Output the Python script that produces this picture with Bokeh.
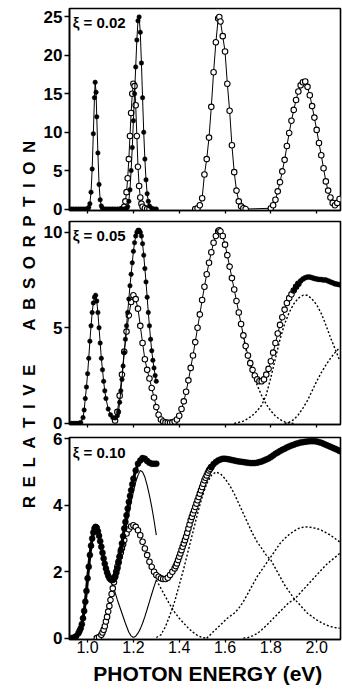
from bokeh.plotting import figure
from bokeh.layouts import column, row
from bokeh.models import Range1d, FixedTicker, Label, NumeralTickFormatter
from bokeh.core.properties import value
from bokeh.embed import file_html
from bokeh.resources import INLINE

FONT = "Liberation Sans"

X_TICKS = [1.0, 1.2, 1.4, 1.6, 1.8, 2.0]
P1_Y_TICKS = [0, 5, 10, 15, 20, 25]
P2_Y_TICKS = [0, 5, 10]
P3_Y_TICKS = [0, 2, 4, 6]
XI_LABELS = ["ξ = 0.02", "ξ = 0.05", "ξ = 0.10"]
Y_LABEL = "RELATIVE ABSORPTION"
X_LABEL = "PHOTON ENERGY (eV)"

# ---------------- panel 1 (xi = 0.02) ----------------
P1_F_x = [0.93, 0.94, 0.95, 0.96, 0.97, 0.98, 0.99, 1.00,
          1.005, 1.010, 1.015, 1.020, 1.025, 1.030, 1.033, 1.037, 1.040, 1.045, 1.050, 1.055, 1.060, 1.065,
          1.07, 1.08, 1.09, 1.10, 1.11, 1.12, 1.13, 1.14, 1.15, 1.16, 1.17,
          1.175, 1.18, 1.185, 1.19, 1.195, 1.20, 1.205, 1.21, 1.215, 1.22, 1.225, 1.23, 1.235, 1.24, 1.245,
          1.25, 1.255, 1.26, 1.265, 1.27, 1.28, 1.29, 1.30]
P1_F_y = [0, 0, 0, 0, 0, 0, 0, 0.05,
          0.2, 0.7, 2.2, 5.2, 9.8, 14.5, 16.5, 15.2, 12.0, 7.3, 3.2, 1.2, 0.4, 0.1,
          0, 0, 0, 0, 0, 0, 0, 0, 0, 0.02, 0.1,
          0.3, 1.0, 2.5, 5.0, 8.0, 11.5, 15.0, 18.5, 22.0, 24.5, 25.0, 23.0, 19.0, 14.5, 10.0,
          6.5, 3.8, 2.0, 1.0, 0.4, 0.1, 0, 0]

P1_O1_x = [1.15, 1.16, 1.165, 1.17, 1.175, 1.18, 1.185, 1.19, 1.195, 1.20, 1.205, 1.21, 1.215, 1.22,
           1.225, 1.23, 1.235, 1.24, 1.25, 1.26, 1.27]
P1_O1_y = [0, 0.3, 1.0, 2.2, 4.0, 6.5, 9.5, 12.5, 15.0, 16.3, 16.0, 13.5, 9.5, 5.5,
           3.0, 1.5, 0.7, 0.3, 0.1, 0, 0]

P1_O2_x = [1.47, 1.48, 1.49, 1.50, 1.51, 1.52, 1.53, 1.54, 1.55, 1.56, 1.57, 1.575,
           1.58, 1.59, 1.60, 1.61, 1.62, 1.63, 1.64, 1.65, 1.66, 1.67, 1.68, 1.69,
           1.80, 1.81, 1.82, 1.83, 1.84, 1.85, 1.86, 1.87, 1.88, 1.89, 1.90, 1.91, 1.92, 1.93, 1.94, 1.95,
           1.96, 1.97, 1.98, 1.99, 2.00, 2.01, 2.02, 2.03, 2.04, 2.05, 2.06, 2.07, 2.08, 2.09, 2.10]
P1_O2_y = [0, 0.1, 0.5, 1.4, 4.5, 6.5, 9.3, 13.3, 17.8, 21.7, 24.8, 25.0,
           24.4, 22.5, 20.5, 16.3, 12.8, 8.3, 4.8, 2.4, 1.0, 0.35, 0.1, 0,
           0.1, 0.5, 1.2, 2.3, 3.5, 4.9, 6.4, 8.2, 9.9, 11.5, 12.9, 14.2, 15.3, 16.1, 16.5, 16.6,
           15.9, 14.8, 13.4, 11.9, 10.3, 8.6, 7.0, 5.3, 3.6, 2.4, 1.5, 0.8, 0.5, 0.8, 1.3]

# ---------------- panel 2 (xi = 0.05) ----------------
P2_F_x = [0.93, 0.94, 0.95, 0.96, 0.97, 0.98,
          0.985, 0.99, 0.995, 1.00, 1.005, 1.01, 1.015, 1.02, 1.025, 1.03,
          1.035, 1.04, 1.045, 1.05, 1.055, 1.06, 1.065, 1.07, 1.075, 1.08,
          1.09, 1.10, 1.11, 1.12, 1.13,
          1.135, 1.14, 1.145, 1.15, 1.155, 1.16, 1.165, 1.17, 1.175, 1.18,
          1.185, 1.19, 1.195, 1.20, 1.205, 1.21, 1.215, 1.22, 1.225, 1.23,
          1.235, 1.24, 1.245, 1.25, 1.255, 1.26, 1.265, 1.27, 1.275, 1.28,
          1.285, 1.29, 1.295, 1.30]
P2_F_y = [0, 0, 0, 0, 0.05, 0.3,
          0.7, 1.3, 1.9, 2.6, 3.4, 4.3, 5.1, 5.8, 6.3, 6.6,
          6.7, 6.4, 5.8, 5.0, 4.2, 3.4, 2.8, 2.2, 1.7, 1.3,
          0.75, 0.45, 0.3, 0.28, 0.4,
          0.6, 1.1, 1.7, 2.3, 3.0, 3.7, 4.4, 5.1, 5.8, 6.5,
          7.2, 7.8, 8.4, 9.0, 9.45, 9.8, 10.0, 10.1, 10.1, 10.0,
          9.8, 9.4, 8.8, 8.1, 7.4, 6.6, 5.8, 5.1, 4.4, 3.8,
          3.3, 2.9, 2.5, 2.2]

P2_O_x = [1.12, 1.13, 1.14, 1.15, 1.16, 1.17, 1.18, 1.19, 1.20,
          1.21, 1.22, 1.23, 1.24, 1.25, 1.26, 1.27, 1.28, 1.29, 1.30,
          1.31, 1.32, 1.33, 1.34, 1.35, 1.36, 1.37, 1.38, 1.39, 1.40,
          1.41, 1.42, 1.43, 1.44, 1.45, 1.46, 1.47, 1.48, 1.49, 1.50,
          1.51, 1.52, 1.53, 1.54, 1.55, 1.56, 1.57, 1.575,
          1.58, 1.59, 1.60, 1.61, 1.62, 1.63, 1.64, 1.65, 1.66, 1.67,
          1.68, 1.69, 1.70, 1.71, 1.72, 1.73, 1.74, 1.75, 1.76, 1.77,
          1.78, 1.79, 1.80, 1.81, 1.82, 1.83, 1.84, 1.85, 1.86, 1.87,
          1.88, 1.89, 1.90, 1.91, 1.92]
P2_O_y = [0.15, 0.6, 1.45, 2.55, 3.75, 4.8, 5.65, 6.35, 6.7,
          6.5, 6.0, 5.1, 4.2, 3.35, 2.8, 2.35, 1.85, 1.35, 0.85,
          0.45, 0.2, 0.1, 0.05, 0.03, 0.03, 0.05, 0.1, 0.2, 0.4,
          0.75, 1.15, 1.65, 2.25, 2.9, 3.55, 4.25, 5.0, 5.7, 6.45,
          7.15, 7.8, 8.4, 8.95, 9.45, 9.8, 10.05, 10.1,
          10.05, 9.8, 9.35, 8.8, 8.2, 7.6, 7.0, 6.4, 5.8, 5.2,
          4.6, 4.05, 3.55, 3.15, 2.8, 2.5, 2.3, 2.2, 2.2, 2.3,
          2.55, 2.85, 3.25, 3.7, 4.2, 4.7, 5.15, 5.55, 5.95, 6.3,
          6.55, 6.75, 6.95, 7.15, 7.3]

P2_T_x = [1.90, 1.91, 1.92, 1.93, 1.94, 1.95, 1.96, 1.97, 1.98, 1.99, 2.00,
          2.01, 2.02, 2.03, 2.04, 2.05, 2.06, 2.07, 2.08, 2.09, 2.10]
P2_T_y = [6.95, 7.15, 7.3, 7.45, 7.55, 7.62, 7.65, 7.65, 7.62, 7.58, 7.55,
          7.53, 7.52, 7.5, 7.5, 7.45, 7.4, 7.35, 7.3, 7.28, 7.25]

P2_Da_x = [1.68, 1.70, 1.72, 1.74, 1.76, 1.78, 1.80, 1.82, 1.84, 1.86, 1.88, 1.90]
P2_Da_y = [4.5, 3.4, 2.65, 2.0, 1.45, 1.0, 0.65, 0.38, 0.2, 0.08, 0.02, 0]
P2_Db_x = [1.64, 1.66, 1.68, 1.70, 1.72, 1.74, 1.76, 1.78, 1.80, 1.82, 1.84, 1.86,
           1.88, 1.90, 1.92, 1.94, 1.96, 1.98, 2.00, 2.02, 2.04, 2.06, 2.08, 2.10]
P2_Db_y = [0, 0.05, 0.12, 0.25, 0.42, 0.65, 0.95, 1.5, 2.4, 3.4, 4.4, 5.2,
           5.8, 6.25, 6.55, 6.7, 6.7, 6.5, 6.2, 5.75, 5.15, 4.5, 3.9, 3.3]
P2_Dc_x = [1.86, 1.88, 1.90, 1.92, 1.94, 1.96, 1.98, 2.00, 2.02, 2.04, 2.06, 2.08, 2.10]
P2_Dc_y = [0, 0.05, 0.2, 0.45, 0.8, 1.2, 1.7, 2.2, 2.65, 3.05, 3.4, 3.7, 3.95]

# ---------------- panel 3 (xi = 0.10) ----------------
P3_F_x = [0.93, 0.94, 0.95, 0.96,
          0.965, 0.97, 0.975, 0.98, 0.985, 0.99, 0.995, 1.00, 1.005, 1.01,
          1.015, 1.02, 1.025, 1.03, 1.035, 1.04, 1.045, 1.05, 1.055, 1.06,
          1.065, 1.07, 1.075, 1.08, 1.085, 1.09, 1.095, 1.10, 1.105, 1.11,
          1.115, 1.12, 1.125, 1.13, 1.135, 1.14, 1.145, 1.15, 1.155, 1.16,
          1.165, 1.17, 1.175, 1.18, 1.185, 1.19, 1.195, 1.20,
          1.21, 1.22, 1.23, 1.24, 1.25, 1.26, 1.27, 1.28, 1.29, 1.30]
P3_F_y = [0, 0.02, 0.06, 0.15,
          0.22, 0.3, 0.42, 0.6, 0.82, 1.1, 1.42, 1.8, 2.15, 2.5,
          2.78, 3.0, 3.18, 3.3, 3.35, 3.32, 3.22, 3.08, 2.92, 2.75,
          2.57, 2.4, 2.24, 2.1, 1.98, 1.88, 1.81, 1.77, 1.75, 1.75,
          1.78, 1.85, 1.96, 2.1, 2.27, 2.45, 2.65, 2.85, 3.07, 3.3,
          3.5, 3.7, 3.9, 4.1, 4.28, 4.45, 4.63, 4.8,
          5.05, 5.25, 5.35, 5.42, 5.4, 5.33, 5.28, 5.25, 5.25, 5.25]

P3_A_x = [1.035, 1.05, 1.07, 1.09, 1.11, 1.13, 1.15, 1.165, 1.18, 1.19, 1.20]
P3_A_y = [3.35, 3.08, 2.4, 1.88, 1.6, 1.15, 0.75, 0.45, 0.18, 0.07, 0.02]
P3_A2_x = [1.20, 1.21, 1.22, 1.23, 1.24, 1.25, 1.26, 1.27, 1.28, 1.29, 1.30]
P3_A2_y = [0.02, 0.06, 0.15, 0.28, 0.45, 0.65, 0.87, 1.1, 1.33, 1.55, 1.75]
P3_B_x = [1.15, 1.16, 1.17, 1.18, 1.19, 1.20, 1.21, 1.22, 1.23, 1.24, 1.25, 1.26, 1.27, 1.28, 1.29, 1.30]
P3_B_y = [2.6, 3.0, 3.4, 3.75, 4.1, 4.4, 4.7, 4.9, 5.05, 5.0, 4.85, 4.6, 4.3, 3.95, 3.55, 3.1]

P3_O_x = [1.04, 1.05, 1.06,
          1.065, 1.07, 1.075, 1.08, 1.085, 1.09, 1.095, 1.10, 1.105, 1.11,
          1.115, 1.12, 1.125, 1.13, 1.135, 1.14, 1.145, 1.15, 1.155, 1.16,
          1.17, 1.18, 1.19, 1.20, 1.21, 1.22, 1.23, 1.24, 1.25, 1.26,
          1.27, 1.28, 1.29, 1.30, 1.31, 1.32, 1.33, 1.34, 1.35, 1.36,
          1.37, 1.38,
          1.385, 1.39, 1.395, 1.40, 1.405, 1.41, 1.415, 1.42, 1.425, 1.43,
          1.435, 1.44, 1.445, 1.45, 1.455, 1.46, 1.465, 1.47, 1.475, 1.48,
          1.485, 1.49, 1.495, 1.50, 1.505, 1.51, 1.515, 1.52, 1.525, 1.53,
          1.535, 1.54]
P3_O_y = [0, 0.03, 0.1,
          0.17, 0.25, 0.36, 0.5, 0.64, 0.8, 0.97, 1.15, 1.33, 1.5,
          1.68, 1.85, 2.0, 2.15, 2.3, 2.45, 2.58, 2.7, 2.83, 2.95,
          3.15, 3.28, 3.36, 3.4, 3.35, 3.25, 3.1, 2.9, 2.7, 2.5,
          2.3, 2.15, 2.0, 1.9, 1.85, 1.8, 1.78, 1.78, 1.82, 1.9,
          2.0, 2.1,
          2.17, 2.25, 2.35, 2.45, 2.55, 2.65, 2.75, 2.85, 2.95, 3.05,
          3.17, 3.3, 3.42, 3.55, 3.65, 3.75, 3.85, 3.95, 4.05, 4.15,
          4.25, 4.35, 4.45, 4.55, 4.65, 4.75, 4.83, 4.9, 4.98, 5.05,
          5.1, 5.15]

P3_T_x = [1.54, 1.55, 1.56, 1.57, 1.58, 1.59, 1.60, 1.61, 1.62, 1.63,
          1.64, 1.65, 1.66, 1.67, 1.68, 1.69, 1.70, 1.71, 1.72, 1.73,
          1.74, 1.75, 1.76, 1.77, 1.78, 1.79, 1.80, 1.81, 1.82, 1.83,
          1.84, 1.85, 1.86, 1.87, 1.88, 1.89, 1.90, 1.91, 1.92, 1.93,
          1.94, 1.95, 1.96, 1.97, 1.98, 1.99, 2.00, 2.01, 2.02, 2.03,
          2.04, 2.05, 2.06, 2.07, 2.08, 2.09, 2.10]
P3_T_y = [5.15, 5.24, 5.3, 5.35, 5.38, 5.4, 5.4, 5.39, 5.38, 5.36,
          5.35, 5.33, 5.32, 5.31, 5.3, 5.29, 5.28, 5.27, 5.27, 5.27,
          5.28, 5.3, 5.32, 5.35, 5.38, 5.41, 5.45, 5.5, 5.55, 5.59,
          5.63, 5.67, 5.7, 5.74, 5.77, 5.8, 5.82, 5.85, 5.87, 5.89,
          5.9, 5.91, 5.92, 5.93, 5.93, 5.93, 5.92, 5.9, 5.88, 5.85,
          5.82, 5.79, 5.76, 5.73, 5.7, 5.67, 5.63]

P3_D0_x = [1.30, 1.32, 1.34, 1.36, 1.38, 1.40, 1.42, 1.44, 1.46, 1.48, 1.50, 1.52]
P3_D0_y = [1.75, 1.5, 1.25, 1.0, 0.78, 0.6, 0.45, 0.3, 0.18, 0.08, 0.02, 0]
P3_D1_x = [1.30, 1.32, 1.34, 1.36, 1.38, 1.40, 1.42, 1.44, 1.46, 1.48, 1.50, 1.52, 1.54, 1.56,
           1.58, 1.60, 1.62, 1.64, 1.66, 1.68, 1.70, 1.72, 1.74, 1.76, 1.78, 1.80, 1.82, 1.84,
           1.86, 1.88, 1.90, 1.92, 1.94, 1.96, 1.98, 2.00, 2.02, 2.04, 2.06, 2.08, 2.10]
P3_D1_y = [0.02, 0.1, 0.35, 0.7, 1.1, 1.6, 2.1, 2.65, 3.2, 3.75, 4.25, 4.65, 4.9, 5.0,
           4.95, 4.8, 4.6, 4.35, 4.05, 3.75, 3.45, 3.15, 2.9, 2.7, 2.5, 2.35, 2.1, 1.85,
           1.6, 1.4, 1.2, 1.05, 0.9, 0.75, 0.65, 0.55, 0.47, 0.4, 0.35, 0.32, 0.3]
P3_D2_x = [1.52, 1.55, 1.58, 1.61, 1.64, 1.66, 1.68, 1.70, 1.72, 1.74, 1.76, 1.78, 1.80, 1.82,
           1.84, 1.86, 1.88, 1.90, 1.92, 1.94, 1.96, 1.98, 2.00, 2.02, 2.04, 2.06, 2.08, 2.10]
P3_D2_y = [0, 0.2, 0.4, 0.6, 0.75, 0.9, 1.1, 1.35, 1.6, 1.85, 2.05, 2.25, 2.45, 2.65,
           2.85, 3.0, 3.12, 3.22, 3.3, 3.34, 3.35, 3.33, 3.3, 3.25, 3.18, 3.1, 3.0, 2.9]
P3_D3_x = [1.68, 1.70, 1.72, 1.74, 1.76, 1.78, 1.80, 1.82, 1.84, 1.86, 1.88, 1.90, 1.92, 1.94,
           1.96, 1.98, 2.00, 2.02, 2.04, 2.06, 2.08, 2.10]
P3_D3_y = [0, 0.02, 0.07, 0.14, 0.25, 0.38, 0.52, 0.66, 0.8, 0.94, 1.08, 1.15, 1.3, 1.45,
           1.6, 1.75, 1.9, 2.05, 2.2, 2.32, 2.43, 2.55]

# ---------------------------------------------------------------
for k in ["P1_F", "P1_O1", "P1_O2", "P2_F", "P2_O", "P2_T", "P2_Da", "P2_Db", "P2_Dc",
          "P3_F", "P3_A", "P3_A2", "P3_B", "P3_O", "P3_T", "P3_D0", "P3_D1", "P3_D2", "P3_D3"]:
    a, b = globals()[k + "_x"], globals()[k + "_y"]
    if len(a) != len(b):
        raise ValueError(f"{k}: {len(a)} x vs {len(b)} y")

LEFT_W = 40          # strip holding the vertical axis title
PANEL_W = 302
TOTAL_H = 689
H1, H2, H3 = 218, 213, 230
xr = Range1d(0.921, 2.104)


def make_fig(height, yr, yticks, top, bottom, bottom_panel):
    p = figure(width=PANEL_W, height=height, x_range=xr, y_range=Range1d(*yr),
               output_backend="svg", toolbar_location=None,
               min_border_left=29, min_border_right=2,
               min_border_top=top, min_border_bottom=bottom)
    p.xgrid.visible = False
    p.ygrid.visible = False
    p.outline_line_color = "black"
    p.outline_line_width = 1.6
    p.outline_line_alpha = 1.0
    p.background_fill_color = "white"
    p.border_fill_color = "white"
    for ax in (p.xaxis[0], p.yaxis[0]):
        ax.axis_line_width = 1.6
        ax.axis_line_color = "black"
        ax.major_tick_line_color = "black"
        ax.major_tick_line_width = 1.3
        ax.minor_tick_line_color = None
        ax.major_tick_in = 0
    if bottom_panel:
        p.xaxis.ticker = FixedTicker(ticks=X_TICKS)
        p.xaxis.formatter = NumeralTickFormatter(format="0.0")
        p.xaxis.major_tick_out = 3
        p.xaxis.major_label_text_font = FONT
        p.xaxis.major_label_text_font_size = "16px"
        p.xaxis.major_label_text_color = "black"
        p.xaxis.major_label_standoff = -2
    else:
        # tick marks only (no numbers) on the upper panels
        p.xaxis.ticker = FixedTicker(ticks=[], minor_ticks=X_TICKS)
        p.xaxis.minor_tick_line_color = "black"
        p.xaxis.minor_tick_line_width = 1.3
        p.xaxis.minor_tick_in = 0
        p.xaxis.minor_tick_out = 3
    p.yaxis.ticker = FixedTicker(ticks=yticks)
    p.yaxis.major_tick_out = 5
    p.yaxis.major_label_standoff = 2
    p.yaxis.major_label_text_font = FONT
    p.yaxis.major_label_text_font_size = "17px"
    p.yaxis.major_label_text_font_style = "bold"
    p.yaxis.major_label_text_color = "black"
    return p


def text_fig(width, height, fx, fy, text, angle, size):
    f = figure(width=width, height=height, x_range=Range1d(0, 1), y_range=Range1d(0, 1),
               output_backend="svg", toolbar_location=None,
               x_axis_location=None, y_axis_location=None, min_border=0)
    f.grid.visible = False
    f.outline_line_color = None
    f.background_fill_color = "white"
    f.border_fill_color = "white"
    f.text(x=[fx], y=[fy], text=[text], angle=angle, text_font=value(FONT),
           text_font_size=size, text_font_style="bold", text_color="black",
           text_align="center", text_baseline="middle")
    return f


def filled(p, x, y, size=4.5, lw=1.0):
    p.line(x, y, line_color="black", line_width=lw)
    p.scatter(x, y, marker="circle", size=size, fill_color="black", line_color="black", line_width=0.5)


def opened(p, x, y, size=5.5, lw=1.0):
    p.line(x, y, line_color="black", line_width=lw)
    p.scatter(x, y, marker="circle", size=size, fill_color="white", line_color="black", line_width=1.1)


def dotted(p, x, y):
    p.line(x, y, line_color="black", line_width=1.4, line_dash="2 2")


def thin(p, x, y):
    p.line(x, y, line_color="black", line_width=1.1)


def xi_label(p, y, text):
    p.add_layout(Label(x=0.935, y=y, text=text, text_font=FONT, text_font_size="15px",
                       text_font_style="bold", text_color="black", text_baseline="middle"))


# panel 1
p1 = make_fig(H1, (-0.19, 26.1), P1_Y_TICKS, 8, 8, False)
opened(p1, P1_O1_x, P1_O1_y)
opened(p1, P1_O2_x, P1_O2_y)
filled(p1, P1_F_x, P1_F_y)
xi_label(p1, 24.3, XI_LABELS[0])

# panel 2
p2 = make_fig(H2, (-0.06, 10.56), P2_Y_TICKS, 3, 7, False)
dotted(p2, P2_Da_x, P2_Da_y)
dotted(p2, P2_Db_x, P2_Db_y)
dotted(p2, P2_Dc_x, P2_Dc_y)
opened(p2, P2_O_x, P2_O_y)
filled(p2, P2_T_x, P2_T_y, size=5, lw=2.5)
filled(p2, P2_F_x, P2_F_y)
xi_label(p2, 9.83, XI_LABELS[1])

# panel 3
p3 = make_fig(H3, (-0.04, 6.04), P3_Y_TICKS, 6, 22, True)
dotted(p3, P3_D0_x, P3_D0_y)
dotted(p3, P3_D1_x, P3_D1_y)
dotted(p3, P3_D2_x, P3_D2_y)
dotted(p3, P3_D3_x, P3_D3_y)
thin(p3, P3_A_x, P3_A_y)
thin(p3, P3_A2_x, P3_A2_y)
thin(p3, P3_B_x, P3_B_y)
opened(p3, P3_O_x, P3_O_y, size=5.5)
filled(p3, P3_T_x, P3_T_y, size=6, lw=3)
filled(p3, P3_F_x, P3_F_y, size=6, lw=3)
xi_label(p3, 5.6, XI_LABELS[2])

# axis titles (the x-title strip's frame is aligned with the panels' frames)
spaced = "\u2002".join(Y_LABEL.replace(" ", "\u2003"))
ylab = text_fig(LEFT_W, TOTAL_H, 0.725, 0.5297, spaced, 1.5707963, "17px")
xlab = text_fig(PANEL_W, TOTAL_H - H1 - H2 - H3, 0.511, 0.571, X_LABEL, 0.0, "21px")

layout = row(ylab, column(p1, p2, p3, xlab, spacing=0), spacing=0)
open("out.html", "w").write(file_html(layout, INLINE))
